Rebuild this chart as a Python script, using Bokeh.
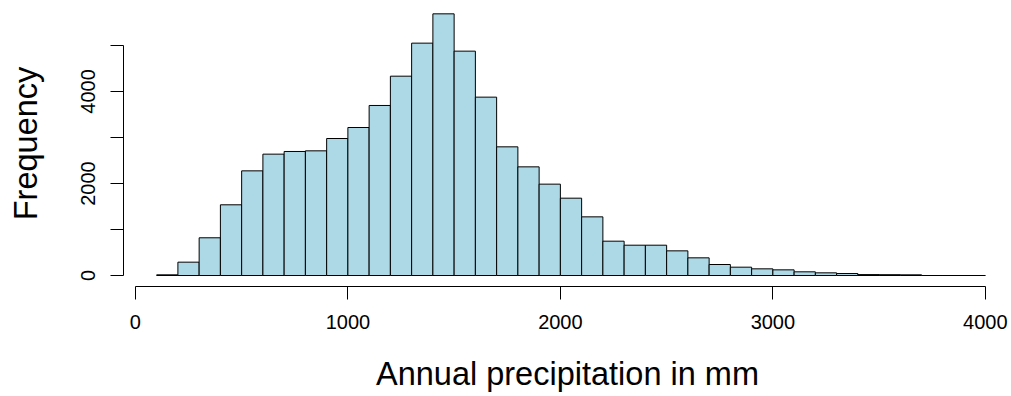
from bokeh.plotting import figure
from bokeh.models import Range1d, FixedTicker, ColumnDataSource
from bokeh.embed import file_html
from bokeh.resources import INLINE

# Histogram data (bins of 100 mm)
bin_left = [100, 200, 300, 400, 500, 600, 700, 800, 900, 1000,
            1100, 1200, 1300, 1400, 1500, 1600, 1700, 1800, 1900, 2000,
            2100, 2200, 2300, 2400, 2500, 2600, 2700, 2800, 2900, 3000,
            3100, 3200, 3300, 3400, 3500, 3600, 3700, 3800, 3900]
bin_width = 100
counts = [15, 290, 820, 1537, 2275, 2638, 2696, 2710, 2978, 3217,
          3696, 4333, 5051, 5688, 4877, 3877, 2797, 2362, 1986, 1681,
          1275, 746, 659, 659, 536, 384, 239, 181, 145, 123,
          80, 58, 43, 20, 18, 15, 0, 0, 0]

x_ticks = [0, 1000, 2000, 3000, 4000]
y_ticks = [0, 1000, 2000, 3000, 4000, 5000]
y_labels_hidden = {1000: "", 3000: "", 5000: ""}

FONT = "Liberation Sans"

source = ColumnDataSource(dict(
    left=bin_left,
    right=[b + bin_width for b in bin_left],
    top=counts,
    bottom=[0] * len(counts),
))

p = figure(width=1011, height=396, output_backend="svg", toolbar_location=None,
           x_range=Range1d(-56, 4123), y_range=Range1d(-239, 5978),
           min_border_left=123, min_border_right=0, min_border_top=0,
           min_border_bottom=110)
p.outline_line_color = None
p.grid.visible = False
p.background_fill_color = "white"
p.border_fill_color = "white"

p.quad(left="left", right="right", top="top", bottom="bottom", source=source,
       fill_color="#ADD8E6", line_color="black", line_width=1)

for ax in (p.xaxis[0], p.yaxis[0]):
    ax.axis_line_color = "black"
    ax.axis_line_width = 1
    ax.major_tick_line_color = "black"
    ax.major_tick_out = 13
    ax.major_tick_in = 0
    ax.minor_tick_line_color = None
    ax.major_label_text_font = FONT
    ax.major_label_text_font_size = "20px"
    ax.major_label_text_color = "black"
    ax.axis_label_text_font = FONT
    ax.axis_label_text_font_size = "32.5px"
    ax.axis_label_text_font_style = "normal"
    ax.axis_label_text_color = "black"

p.xaxis[0].ticker = FixedTicker(ticks=x_ticks)
p.xaxis[0].bounds = (0, 4000)
p.xaxis[0].major_label_standoff = 15
p.xaxis[0].axis_label = "Annual precipitation in mm"
p.xaxis[0].axis_label_standoff = 24

p.yaxis[0].ticker = FixedTicker(ticks=y_ticks)
p.yaxis[0].bounds = (0, 5000)
p.yaxis[0].major_label_overrides = y_labels_hidden
p.yaxis[0].major_label_orientation = "vertical"
p.yaxis[0].major_label_standoff = 15
p.yaxis[0].axis_label = "Frequency"
p.yaxis[0].axis_label_standoff = 35

open("out.html", "w").write(file_html(p, INLINE))
